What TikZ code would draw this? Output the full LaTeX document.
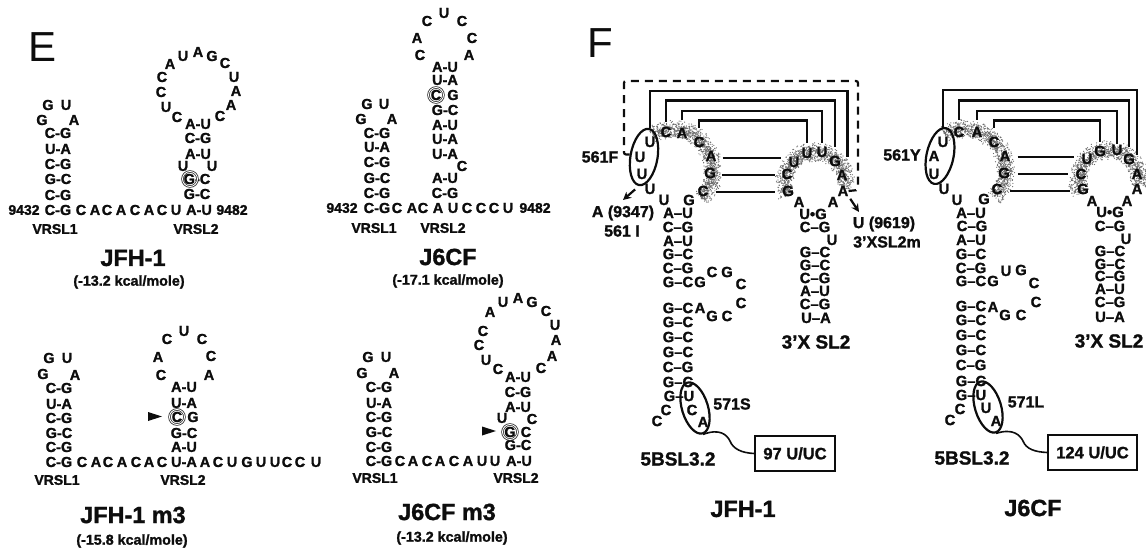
\documentclass[tikz,border=0pt]{standalone}
\usepackage{fontspec}
\setmainfont{Liberation Sans}[BoldFeatures={FakeBold=1.4}]
\usetikzlibrary{shapes.geometric,arrows.meta}
\newcommand\letters[3]{\foreach \x/\y/\t [count=\i] in {#3} {\node[#2] (#1\i) at (\x,\y) {\t};}}
\newcommand\stip[5]{\foreach \k in {1,...,1200} {%
  \pgfmathsetmacro\aa{#4+rnd*(#5-#4)}%
  \pgfmathsetmacro\rr{#3+(rnd+rnd-1)*10}%
  \pgfmathsetmacro\px{#1+\rr*cos(\aa)}%
  \pgfmathsetmacro\py{#2-\rr*sin(\aa)}%
  \fill[stipcol] (\px,\py) circle[radius=.62pt];}}
\definecolor{stipcol}{gray}{0.42}
\definecolor{inkc}{gray}{0.05}
\tikzset{
  every node/.style={inner sep=0pt,text=inkc},
  nt/.style={font=\fontsize{14.5}{14.5}\bfseries\selectfont},
  ntf/.style={font=\fontsize{14.8}{14.8}\bfseries\selectfont},
  vr/.style={font=\fontsize{14}{14}\bfseries\selectfont},
  ttl/.style={font=\fontsize{23.4}{24}\bfseries\selectfont},
  sub/.style={font=\fontsize{14.3}{15}\bfseries\selectfont},
  lab/.style={font=\fontsize{16}{16}\bfseries\selectfont},
  slabel/.style={font=\fontsize{19}{19}\bfseries\selectfont},
  big/.style={font=\fontsize{42}{42}\selectfont},
  ring/.style={draw=black!80,circle,minimum size=15pt,line width=.8pt,double=white,double distance=.9pt},
  oval/.style={draw=inkc,ellipse,line width=2.2pt},
  oval1/.style={oval,minimum width=57pt,minimum height=27pt},
  oval2/.style={oval,minimum width=53pt,minimum height=26pt},
  brk/.style={draw=inkc,line width=2.2pt},
  dashbox/.style={draw=inkc,line width=2.2pt,dash pattern=on 8pt off 6pt,rounded corners=2pt},
  arr/.style={draw=inkc,line width=2.2pt,-{Stealth[length=8pt,width=8pt]}},
  ubox/.style={draw=inkc,line width=1.6pt,font=\fontsize{16.5}{17}\bfseries\selectfont},
  wire/.style={draw=inkc,line width=1.6pt},
}
\begin{document}
\begin{tikzpicture}[x=1pt,y=-1pt]
\useasboundingbox (0,0) rectangle (1146,548);
\pgfmathsetseed{7}
% stipple
\stip{672}{170}{41}{-44}{120}
\stip{815}{183}{31}{-10}{205}
\stip{965}{170}{41}{-44}{120}
\stip{1109}{181}{31}{-10}{205}
% E panel labels
\node[big] (E) at (43,47) {E};
\node[big] (F) at (600,43) {F};
% JFH-1
\letters{a}{nt}{48/105/G,66/105/U,42/120/G,74/120/A,58/133/C-G,58/149/U-A,58/164/C-G,58/179/G-C,58/195/C-G,58/210/C-G,
81/210/C,95/210/A,107/210/C,121/210/A,135/210/C,149/210/A,162/210/C,176/210/U,199/210/A-U,
198/124/A-U,198/138/C-G,198/154/A-U,183/166/U,212/166/U,197/179/G-C,197/194/G-C,
177/117/C,166/107/U,161/92/C,162/77/C,170/64/A,183/56/U,198/52/A,212/56/G,225/63/C,234/77/U,236/91/A,231/105/A,220/116/C}
\node[vr] (an1) at (24,210) {9432};
\node[vr] (an2) at (232,210) {9482};
\node[vr] (av1) at (55,229) {VRSL1};
\node[vr] (av2) at (196,229) {VRSL2};
\node[ttl] (at) at (133,258) {JFH-1};
\node[sub] (as) at (129,282) {(-13.2 kcal/mole)};
\node[ring] (ar) at (190,179) {};
% J6CF
\letters{b}{nt}{367/104/G,384/104/U,361/119/G,392/119/A,377/133/C-G,377/147/U-A,377/162/C-G,377/178/G-C,377/193/C-G,377/208/C-G,
397/208/C,412/208/A,423/208/C,438/208/A,453/208/U,467/208/C,481/208/C,494/208/C,508/208/U,
445/67/A-U,445/80/U-A,436/95/C,453/95/G,445/110/G-C,445/125/A-U,445/139/U-A,445/154/U-A,462/166/C,445/178/A-U,445/193/C-G,
420/55/C,417/38/A,427/21/C,444/13/U,462/21/C,472/38/C,469/55/A}
\node[vr] (bn1) at (342,208) {9432};
\node[vr] (bn2) at (535,208) {9482};
\node[vr] (bv1) at (374,228) {VRSL1};
\node[vr] (bv2) at (443,228) {VRSL2};
\node[ttl] (bt) at (448,257) {J6CF};
\node[sub] (bs) at (448,281) {(-17.1 kcal/mole)};
\node[ring] (br) at (436,95) {};
% JFH-1 m3
\letters{c}{nt}{49/358/G,67/358/U,43/374/G,75/375/A,59/388/C-G,59/404/U-A,59/418/C-G,59/433/G-C,59/447/C-G,59/462/C-G,
82/462/C,96/462/A,108/462/C,122/462/A,136/462/C,149/462/A,162/462/C,184/462/U-A,205/462/A,218/462/C,232/462/U,247/462/G,261/462/U,275/462/U,287/462/C,300/462/C,316/462/U,
184/387/A-U,184/403/U-A,177/417/C,193/417/G,184/433/G-C,184/447/A-U,
161/375/C,158/357/A,167/339/C,184/331/U,202/339/C,211/356/C,209/375/A}
\node[vr] (cv1) at (57,480) {VRSL1};
\node[vr] (cv2) at (183,480) {VRSL2};
\node[ttl] (ct) at (133,515) {JFH-1 m3};
\node[sub] (cs) at (132,541) {(-15.8 kcal/mole)};
\node[ring] (cr) at (177,417) {};
\fill[inkc] (148,412) -- (162,416.5) -- (148,421) -- cycle;
% J6CF m3
\letters{d}{nt}{368/357/G,386/357/U,362/373/G,394/373/A,379/387/C-G,379/403/U-A,379/417/C-G,379/432/G-C,379/447/C-G,379/461/C-G,
400/461/C,413/461/A,427/461/C,440/461/A,454/461/C,468/461/A,482/461/U,495/461/U,519/461/A-U,
518/377/A-U,518/392/C-G,518/407/A-U,502/418/U,532/419/C,510/432/G,526/432/C,518/445/G-C,
498/369/C,486/360/U,479/345/C,483/331/C,490/312/A,503/302/U,518/298/A,532/302/G,546/311/C,555/325/U,556/340/A,552/356/A,541/368/C}
\node[vr] (dv1) at (375,478) {VRSL1};
\node[vr] (dv2) at (516,478) {VRSL2};
\node[ttl] (dt) at (447,512) {J6CF m3};
\node[sub] (ds) at (452,538) {(-13.2 kcal/mole)};
\node[ring] (dr) at (510,432) {};
\fill[inkc] (482,426.5) -- (496,431) -- (482,435.5) -- cycle;
% F JFH-1
\letters{fl}{ntf}{650/142/U,666/132/C,682/133/A,699/142/C,711/156/A,710/173/G,703/191/C,689/200/G,664/200/U,650/189/U,642/174/U,640/157/U}
\letters{fr}{ntf}{807/153/U,822/152/U,835/161/G,842/175/A,843/191/A,833/202/A,799/202/A,788/191/G,787/174/C,794/162/U}
\letters{fs}{ntf}{678/213/A–U,678/227/C–G,678/241/A–U,678/254/G–C,678/268/C–G,678/282/G–C,700/282/G,712/272/C,727/272/G,741/284/C,741/303/C,727/316/C,712/316/G,700/308/A,
678/308/G–C,678/322/G–C,678/337/G–C,678/352/G–C,678/367/C–G,678/382/G–C,679/396/G–U,666/410/C,657/421/C,692/410/C,703/422/A,
813/214/U•G,815/227/C–G,832/240/U,815/252/G–C,815/265/G–C,815/278/C–G,815/291/A–U,815/304/C–G,816/318/U–A}
\node[oval1,rotate=80] (fe1) at (644,157) {};
\node[oval2,rotate=-73] (fe2) at (695,408) {};
\node[lab] (f561) at (600,157) {561F};
\node[lab] (fa) at (623,213) {A (9347)};
\node[lab] (fb) at (622,231) {561 I};
\node[lab] (fu) at (884,224) {U (9619)};
\node[lab] (fv) at (887,242) {3’XSL2m};
\node[lab] (f571) at (732,404) {571S};
\node[slabel] (fsl) at (816,342) {3’X SL2};
\node[slabel] (f5b) at (678,459) {5BSL3.2};
\node[ttl] (ft) at (743,509) {JFH-1};
\node[ubox,minimum width=80pt,minimum height=35pt] (fbox) at (795,453.5) {97 U/UC};
\draw[brk,shorten <=9pt,shorten >=13pt] (fl1.north) -- ++(0,-46) -| (fr4.north east);
\draw[brk,shorten <=5pt,shorten >=9pt] (fl2.north) -- ++(0,-26) -| (fr3.north);
\draw[brk,shorten <=8pt,shorten >=4pt] (fl3.north) -- ++(0,-17) -| (fr2.north);
\draw[brk,shorten <=9pt,shorten >=5pt] (fl4.north) -- ++(0,-16) -| (fr1.north);
\draw[brk,shorten <=6pt,shorten >=7pt] ([yshift=-2pt]fl5.east) -- ([yshift=-2pt]fl5.east -| fr10.west);
\draw[brk,shorten <=6pt,shorten >=6pt] ([yshift=-2pt]fl6.east) -- ([yshift=-2pt]fl6.east -| fr9.west);
\draw[brk,shorten <=7pt,shorten >=7pt] ([yshift=-1pt]fl7.east) -- ([yshift=-1pt]fl7.east -| fr8.west);
\draw[dashbox] (fe1.north) -| (624,81) -| (858,190) -- (fr5.east);
\coordinate (fa1) at (623,200);
\coordinate (fa2) at (859,212);
\draw[arr,shorten <=5pt] (fe1.west) -- (fa1);
\draw[arr,shorten <=3pt] (fr5.south east) -- (fa2);
\draw[wire] (fe2.east) .. controls (720,428) and (727,435) .. (730,441) .. controls (733,449) and (742,453) .. (fbox.west);
% F J6CF
\letters{gl}{ntf}{943/142/U,959/132/C,977/132/A,994/142/C,1005/156/A,1004/173/G,997/189/C,984/199/G,957/200/U,944/189/U,934/174/U,934/156/A}
\letters{gr}{ntf}{1100/151/G,1117/150/U,1129/159/G,1137/174/A,1137/189/A,1127/201/A,1092/201/A,1083/189/G,1081/174/C,1087/159/U}
\letters{gs}{ntf}{971/213/A–U,972/226/C–G,971/240/A–U,971/254/G–C,971/268/C–G,971/281/G–C,993/281/G,1006/271/U,1021/270/G,1034/283/C,1036/302/C,1021/315/C,1005/315/G,993/307/A,
971/306/G–C,971/320/G–C,971/335/G–C,971/350/G–C,971/365/C–G,971/381/G–C,971/395/G–U,960/409/C,950/420/C,986/408/U,996/421/A,
1110/212/U•G,1110/226/C–G,1126/239/U,1110/251/G–C,1110/264/G–C,1110/276/C–G,1110/289/A–U,1110/302/C–G,1110/317/U–A}
\node[oval1,rotate=78] (ge1) at (940,156) {};
\node[oval2,rotate=-73] (ge2) at (988,407) {};
\node[lab] (g561) at (902,155) {561Y};
\node[lab] (g571) at (1026,402) {571L};
\node[slabel] (gsl) at (1109,341) {3’X SL2};
\node[slabel] (g5b) at (972,458) {5BSL3.2};
\node[ttl] (gt) at (1033,508) {J6CF};
\node[ubox,minimum width=89pt,minimum height=35pt] (gbox) at (1092.5,452.5) {124 U/UC};
\draw[brk,shorten <=9pt,shorten >=14pt] (gl1.north) -- ++(0,-47) -| (gr4.north);
\draw[brk,shorten <=7pt,shorten >=7pt] (gl2.north) -- ++(0,-26) -| (gr3.north);
\draw[brk,shorten <=7pt,shorten >=1pt] (gl3.north) -- ++(0,-16) -| (gr2.north);
\draw[brk,shorten <=9pt,shorten >=4pt] (gl4.north) -- ++(0,-16) -| (gr1.north);
\draw[brk,shorten <=7pt,shorten >=7pt] ([yshift=-1pt]gl5.east) -- ([yshift=-1pt]gl5.east -| gr10.west);
\draw[brk,shorten <=8pt,shorten >=7pt] ([yshift=-1pt]gl6.east) -- ([yshift=-1pt]gl6.east -| gr9.west);
\draw[brk,shorten <=7pt,shorten >=7pt] ([yshift=-2pt]gl7.east) -- ([yshift=-2pt]gl7.east -| gr8.west);
\draw[wire] (ge2.east) .. controls (1013,428) and (1020,435) .. (1023,441) .. controls (1026,449) and (1035,452) .. (gbox.west);
\end{tikzpicture}
\end{document}
